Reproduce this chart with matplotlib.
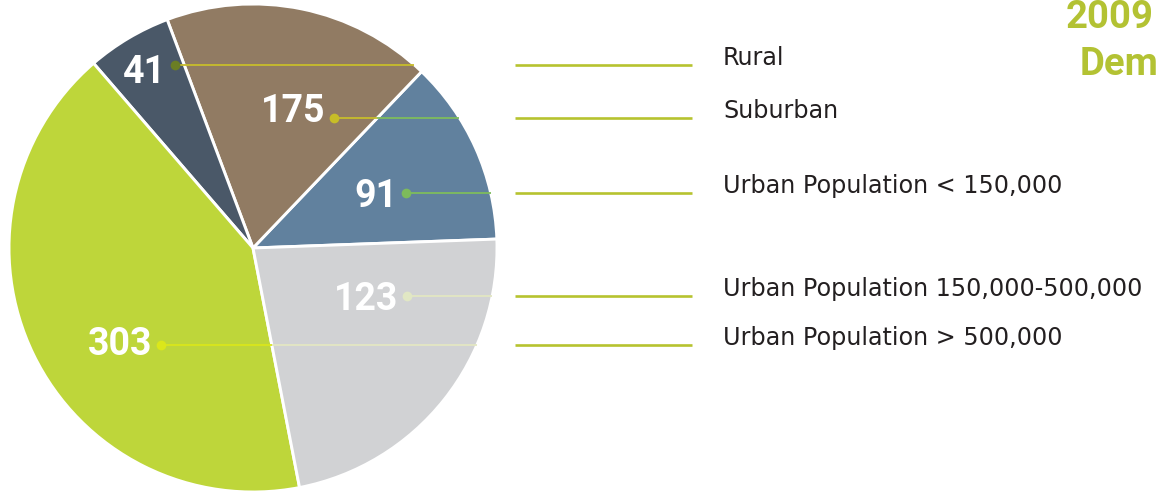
import numpy as np
import matplotlib
matplotlib.use("Agg")
import matplotlib.pyplot as plt

# ---- data ----
categories = ["Rural", "Suburban", "Urban Population < 150,000",
              "Urban Population 150,000-500,000", "Urban Population > 500,000"]
counts = [41, 175, 91, 123, 303]
# slice sizes as drawn in the picture (degrees), same order as categories
slice_deg = [20.2, 64.3, 44.2, 81.1, 150.2]
slice_colors = ["#4a5868", "#917b63", "#61819e", "#d1d2d4", "#bed63a"]
title_lines = ["2009", "Dem"]

# ---- layout (pixel coordinates, y downward) ----
W, H = 1159, 493
def py(y):
    return H - y

cx, cy, R = 253, 248, 244
draw_order = [2, 1, 0, 4, 3]
start_angle = 2.1
row_y = [65, 118, 193, 296, 345]
dot_x = [175, 334, 406, 407, 161]
text_base = [83, 122, 207, 310, 355]
dot_colors = ["#6b7e24", "#c7bd27", "#7dbb5b", "#e1e7c4", "#dbe71a"]
seg_colors = [["#c8bd2b"], ["#c8bd2b", "#7ebc5c"], ["#7ebc5c"],
              ["#e2e6c2"], ["#d9e61c", "#e3e7c3"]]

fig = plt.figure(figsize=(W / 100, H / 100), dpi=100)
ax = fig.add_axes([0, 0, 1, 1])

wedges, _ = ax.pie([slice_deg[i] for i in draw_order],
                   colors=[slice_colors[i] for i in draw_order],
                   startangle=start_angle, counterclock=True,
                   center=(cx, py(cy)), radius=R, frame=True,
                   wedgeprops=dict(edgecolor="white", linewidth=2.1))

# boundary angles (deg) of each wedge
bounds = {}
a = start_angle
for i in draw_order:
    bounds[i] = (a, a + slice_deg[i])
    a += slice_deg[i]

num_font = ["Roboto", "DejaVu Sans"]
for k in range(len(categories)):
    yy = row_y[k]
    dy = cy - yy
    x_edge = cx + np.sqrt(R ** 2 - dy ** 2)
    xs = [dot_x[k]]
    if len(seg_colors[k]) > 1:
        lo, hi = bounds[k]
        ang = lo if dy > 0 else hi
        xc = cx + dy / np.tan(np.radians(ang))
        xs.append(xc)
    xs.append(x_edge)
    for s, col in enumerate(seg_colors[k]):
        ax.plot([xs[s], xs[s + 1]], [py(yy), py(yy)], color=col, lw=1.3,
                solid_capstyle="butt", zorder=3)
    ax.plot([dot_x[k]], [py(yy)], "o", ms=7, color=dot_colors[k],
            mec="none", zorder=4)
    ax.text(dot_x[k] - 9, py(text_base[k]), str(counts[k]), color="white",
            fontsize=27, fontweight="bold", family=num_font,
            ha="right", va="baseline", zorder=5)
    # legend line + label
    ax.plot([515, 692], [py(yy), py(yy)], color="#b6c32f", lw=1.9,
            solid_capstyle="butt")
    ax.text(723, py(yy), categories[k], color="#231f20", fontsize=17.2,
            family=["DejaVu Sans"], ha="left", va="baseline")

ax.text(1066, py(28), title_lines[0], color="#b3c233", fontsize=27.5,
        fontweight="bold", family=["Roboto", "DejaVu Sans"],
        ha="left", va="baseline")
ax.text(1158, py(75), title_lines[1], color="#b3c233", fontsize=27.5,
        fontweight="bold", family=["Roboto", "DejaVu Sans"],
        ha="right", va="baseline")

ax.set_xlim(0, W)
ax.set_ylim(0, H)
ax.set_aspect("equal")
ax.axis("off")
fig.savefig("out.png", dpi=100)
